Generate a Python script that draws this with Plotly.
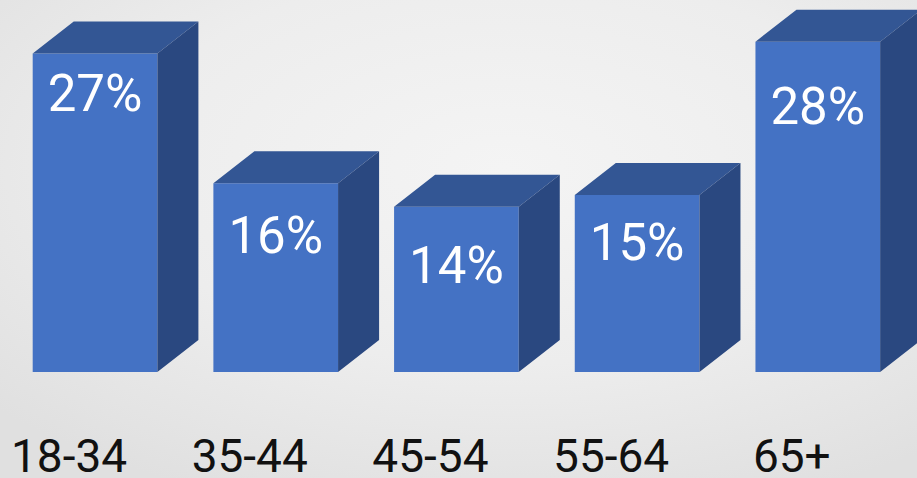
import base64
import plotly.graph_objects as go

categories = ["18-34", "35-44", "45-54", "55-64", "65+"]
values = [27, 16, 14, 15, 28]
value_labels = ["27%", "16%", "14%", "15%", "28%"]

# styling / geometry (not data)
label_drop = [3.8, 4.8, 5.4, 4.4, 5.9]
BAR_W = 0.69
DX = 0.227
DY = 2.71
FRONT = "#4472C4"
TOP = "#335694"
SIDE = "#2A4880"

xs = list(range(len(categories)))

bg_svg = (
    '<svg xmlns="http://www.w3.org/2000/svg" width="917" height="478" viewBox="0 0 917 478" preserveAspectRatio="none">'
    '<defs><radialGradient id="g" cx="0.55" cy="0.35" r="0.75">'
    '<stop offset="0" stop-color="#f4f4f4"/><stop offset="0.55" stop-color="#ededed"/>'
    '<stop offset="1" stop-color="#e0e0e0"/></radialGradient></defs>'
    '<rect width="917" height="478" fill="url(#g)"/></svg>'
)
bg_uri = "data:image/svg+xml;base64," + base64.b64encode(bg_svg.encode()).decode()

fig = go.Figure()
fig.add_trace(go.Bar(x=xs, y=values, width=BAR_W, marker=dict(color=FRONT, line=dict(width=0)),
                     hoverinfo="skip", showlegend=False))

tx, ty, sx, sy = [], [], [], []
for x, v in zip(xs, values):
    l, r = x - BAR_W / 2, x + BAR_W / 2
    tx += [l, l + DX, r + DX, r, l, None]
    ty += [v, v + DY, v + DY, v, v, None]
    sx += [r, r, r + DX, r + DX, r, None]
    sy += [0, v, v + DY, DY, 0, None]

fig.add_trace(go.Scatter(x=tx, y=ty, fill="toself", fillcolor=TOP, mode="lines",
                         line=dict(width=0, color=TOP), hoverinfo="skip", showlegend=False))
fig.add_trace(go.Scatter(x=sx, y=sy, fill="toself", fillcolor=SIDE, mode="lines",
                         line=dict(width=0, color=SIDE), hoverinfo="skip", showlegend=False))

fig.add_trace(go.Scatter(x=xs, y=[v - d for v, d in zip(values, label_drop)], mode="text",
                         text=value_labels, textposition="middle center",
                         textfont=dict(family="Roboto", size=51, color="white"),
                         hoverinfo="skip", showlegend=False))

fig.update_layout(
    width=917, height=478,
    margin=dict(l=0, r=0, t=0, b=106),
    paper_bgcolor="#ebebeb", plot_bgcolor="rgba(0,0,0,0)",
    images=[dict(source=bg_uri, xref="paper", yref="paper", x=0, y=1,
                 sizex=1, sizey=478 / 372, xanchor="left", yanchor="top",
                 sizing="stretch", layer="below")],
    xaxis=dict(range=[-0.526, 4.549], tickvals=xs, ticktext=categories, showgrid=False,
               zeroline=False, showline=False, ticks="", ticklabelshift=-26,
               ticklabelstandoff=53, automargin=False,
               tickfont=dict(family="Roboto", size=46, color="#111111")),
    yaxis=dict(range=[0, 31.53], visible=False, automargin=False),
)
fig.write_html("out.html", config={"displayModeBar": False},
               post_script="document.body.style.margin='0';document.body.style.padding='0';")
